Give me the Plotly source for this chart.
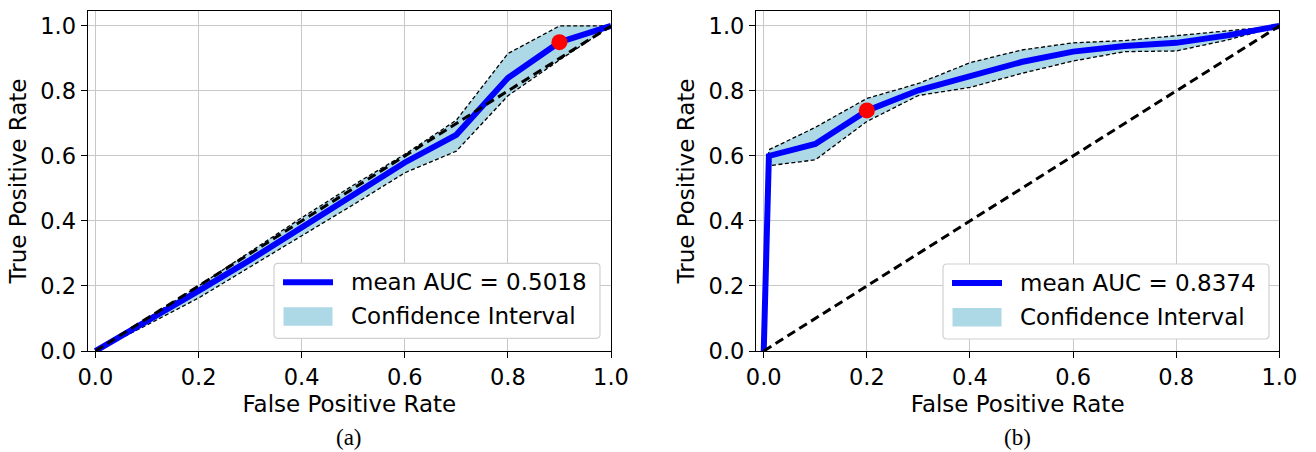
import plotly.graph_objects as go

# ---------------- data ----------------
fpr_a = [0.0, 0.1, 0.2, 0.3, 0.4, 0.5, 0.6, 0.7, 0.8, 0.9, 1.0]
mean_a = [0.0, 0.09, 0.185, 0.28, 0.38, 0.48, 0.58, 0.665, 0.84, 0.95, 1.0]
upper_a = [0.0, 0.10, 0.20, 0.305, 0.41, 0.51, 0.605, 0.71, 0.915, 1.0, 1.0]
lower_a = [0.0, 0.08, 0.163, 0.258, 0.355, 0.45, 0.548, 0.615, 0.785, 0.895, 1.0]
best_a = (0.9, 0.95)
auc_a = "0.5018"

fpr_b = [0.0, 0.01, 0.1, 0.2, 0.3, 0.4, 0.5, 0.6, 0.7, 0.8, 0.9, 1.0]
mean_b = [0.0, 0.60, 0.637, 0.739, 0.802, 0.847, 0.889, 0.921, 0.938, 0.948, 0.971, 1.0]
upper_b = [0.0, 0.619, 0.688, 0.777, 0.823, 0.887, 0.926, 0.948, 0.955, 0.971, 0.985, 1.0]
lower_b = [0.0, 0.570, 0.588, 0.706, 0.786, 0.811, 0.854, 0.892, 0.921, 0.923, 0.957, 1.0]
best_b = (0.2, 0.74)
auc_b = "0.8374"

diag = [0.0, 1.0]
ticks = [0.0, 0.2, 0.4, 0.6, 0.8, 1.0]
captions = ["(a)", "(b)"]
ci_label = "Confidence Interval"

FONT = "DejaVu Sans"
FS = 23
TFS = 22.5
CI_COLOR = "#ADD8E6"
BLUE = "#0000FF"

W, H = 1316, 452
fig = go.Figure()


def add_panel(idx, fpr, mean, upper, lower, best, auc):
    xa = "x" if idx == 1 else "x2"
    ya = "y" if idx == 1 else "y2"
    poly_x = list(fpr) + list(reversed(fpr))
    poly_y = list(upper) + list(reversed(lower))
    fig.add_trace(go.Scatter(x=poly_x, y=poly_y, mode="lines", line=dict(width=0, color=CI_COLOR),
                             fill="toself", fillcolor=CI_COLOR, name=ci_label,
                             hoverinfo="skip", xaxis=xa, yaxis=ya))
    for b in (upper, lower):
        fig.add_trace(go.Scatter(x=fpr, y=b, mode="lines",
                                 line=dict(width=1.3, color="black", dash="4px,2.5px"),
                                 hoverinfo="skip", xaxis=xa, yaxis=ya))
    fig.add_trace(go.Scatter(x=fpr, y=mean, mode="lines", line=dict(width=6, color=BLUE),
                             name="mean AUC = " + auc, xaxis=xa, yaxis=ya))
    fig.add_trace(go.Scatter(x=diag, y=diag, mode="lines",
                             line=dict(width=3, color="black", dash="9px,5px"),
                             hoverinfo="skip", xaxis=xa, yaxis=ya))
    fig.add_trace(go.Scatter(x=[best[0]], y=[best[1]], mode="markers",
                             marker=dict(size=16, color="#FF0000"), xaxis=xa, yaxis=ya))


add_panel(1, fpr_a, mean_a, upper_a, lower_a, best_a, auc_a)
add_panel(2, fpr_b, mean_b, upper_b, lower_b, best_b, auc_b)


def px(x):
    return x / W


def py(y):
    return 1 - y / H


def rounded_rect_path(L, T, R, B, r):
    pts = [
        "M %f,%f" % (px(L + r), py(T)),
        "L %f,%f" % (px(R - r), py(T)),
        "Q %f,%f %f,%f" % (px(R), py(T), px(R), py(T + r)),
        "L %f,%f" % (px(R), py(B - r)),
        "Q %f,%f %f,%f" % (px(R), py(B), px(R - r), py(B)),
        "L %f,%f" % (px(L + r), py(B)),
        "Q %f,%f %f,%f" % (px(L), py(B), px(L), py(B - r)),
        "L %f,%f" % (px(L), py(T + r)),
        "Q %f,%f %f,%f" % (px(L), py(T), px(L + r), py(T)),
        "Z",
    ]
    return " ".join(pts)


def add_legend(L, T, auc):
    R, B = L + 326, T + 75
    fig.add_shape(type="path", path=rounded_rect_path(L, T, R, B, 4), xref="paper", yref="paper",
                  line=dict(color="#d0d0d0", width=1.2), fillcolor="white", layer="above")
    fig.add_shape(type="line", x0=px(L + 9), x1=px(L + 59), y0=py(T + 19), y1=py(T + 19),
                  xref="paper", yref="paper", line=dict(color=BLUE, width=6), layer="above")
    fig.add_shape(type="rect", x0=px(L + 9.5), x1=px(L + 58.5), y0=py(T + 44), y1=py(T + 62.4),
                  xref="paper", yref="paper", line=dict(width=0), fillcolor=CI_COLOR, layer="above")
    for txt, yc in (("mean AUC = " + auc, T + 19), (ci_label, T + 53)):
        fig.add_annotation(text=txt, x=px(L + 75), y=py(yc), xref="paper", yref="paper",
                           showarrow=False, xanchor="left", yanchor="middle",
                           font=dict(family=FONT, size=FS, color="black"))


add_legend(274, 263.3, auc_a)
add_legend(943, 264, auc_b)

axis_common = dict(
    showline=True, linecolor="black", linewidth=1.2, mirror=True,
    ticks="outside", ticklen=6, tickwidth=1.2, tickcolor="black",
    showgrid=True, gridcolor="#c8c8c8", gridwidth=1,
    zeroline=False, tickvals=ticks, tickformat=".1f", automargin=False,
    tickfont=dict(family=FONT, size=TFS, color="black"),
)

ydom = [1 - 351 / H, 1 - 11 / H]
xdom1 = [87.7 / W, 611 / W]
xdom2 = [756 / W, 1279.3 / W]

fig.update_layout(
    width=W, height=H,
    margin=dict(l=0, r=0, t=0, b=0),
    paper_bgcolor="white", plot_bgcolor="white",
    font=dict(family=FONT, size=FS, color="black"),
    showlegend=False,
    xaxis=dict(domain=xdom1, range=[-0.015, 1.0], anchor="y",
               title=dict(text="False Positive Rate", standoff=6,
                          font=dict(family=FONT, size=FS)), **axis_common),
    yaxis=dict(domain=ydom, range=[0, 1.046], anchor="x",
               title=dict(text="True Positive Rate", standoff=7,
                          font=dict(family=FONT, size=FS)), **axis_common),
    xaxis2=dict(domain=xdom2, range=[-0.015, 1.0], anchor="y2",
                title=dict(text="False Positive Rate", standoff=6,
                           font=dict(family=FONT, size=FS)), **axis_common),
    yaxis2=dict(domain=ydom, range=[0, 1.046], anchor="x2",
                title=dict(text="True Positive Rate", standoff=7,
                           font=dict(family=FONT, size=FS)), **axis_common),
)

for cx, cap in zip([(xdom1[0] + xdom1[1]) / 2, (xdom2[0] + xdom2[1]) / 2], captions):
    fig.add_annotation(text=cap, x=cx, y=1 - 437 / H, xref="paper", yref="paper",
                       showarrow=False, xanchor="center", yanchor="middle",
                       font=dict(family="Liberation Serif", size=23, color="black"))

fig.write_html("out.html")
